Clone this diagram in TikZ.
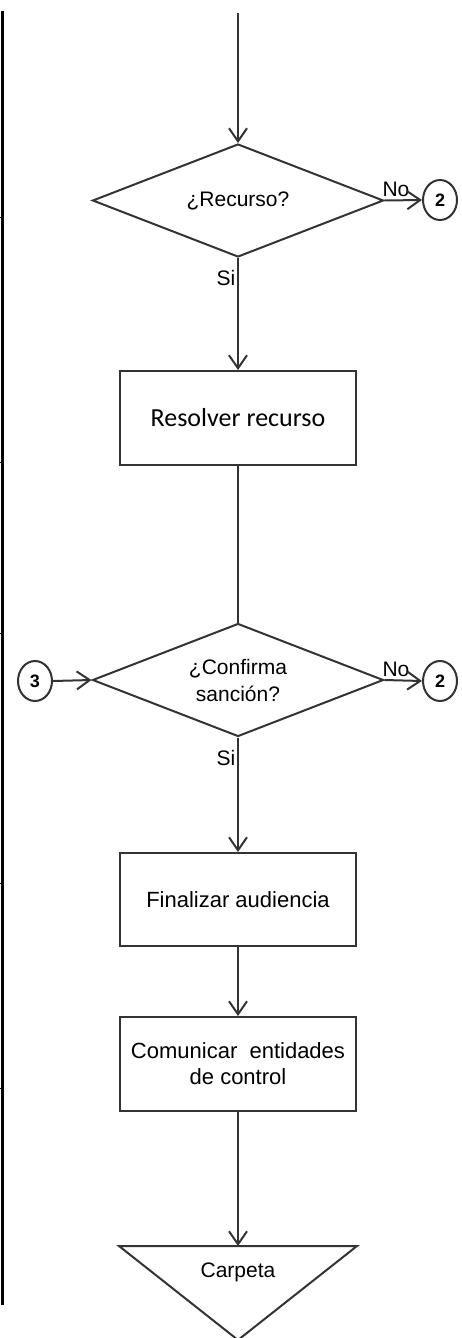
\documentclass[tikz,border=0pt]{standalone}
\usepackage{fontspec}
\setmainfont{Liberation Sans}
\newfontfamily\calibri{Carlito}
\usetikzlibrary{shapes.geometric,arrows.meta}

\begin{document}
\begin{tikzpicture}[x=1pt,y=-1pt,
    line width=2pt,
    linea/.style={draw=black!80},
    flecha/.style={linea,-{Straight Barb[length=13pt,width=18pt]}},
    decision/.style={diamond,draw=black!80,shape aspect=2.6,minimum width=291pt,minimum height=113pt,inner sep=0pt,align=center,font=\fontsize{21}{27}\selectfont},
    proceso/.style={rectangle,draw=black!80,minimum width=236pt,minimum height=94pt,inner sep=0pt,align=center,font=\fontsize{22}{26}\selectfont},
    conector/.style={ellipse,draw=black!80,minimum width=34pt,minimum height=40pt,inner sep=0pt,font=\fontsize{18}{18}\selectfont\bfseries},
    etiqueta/.style={inner sep=0pt,font=\fontsize{21}{21}\selectfont}]
  \useasboundingbox (0,0) rectangle (461,1338);

  % Borde izquierdo
  \draw[line width=3pt] (2,11) -- (2,1305);
  \foreach \y in {217,462,633,883,1088}
    \draw[line width=1pt] (0,\y) -- (2,\y);

  % Nodos
  \coordinate (inicio) at (238,13);
  \node[decision] (recurso) at (238,200.5) {¿Recurso?};
  \node[conector] (dos1) at (440,200) {2};
  \node[proceso,font=\calibri\fontsize{26}{28}\selectfont] (resolver) at (238,418) {Resolver recurso};
  \node[decision] (confirma) at (238,680) {¿Confirma\\sanción?};
  \node[conector] (tres) at (35,681) {3};
  \node[conector] (dos2) at (440,681) {2};
  \node[proceso,minimum height=93pt] (finalizar) at (238,899.5) {Finalizar audiencia};
  \node[proceso] (comunicar) at (238,1064) {Comunicar\ \ entidades\\de control};

  % Carpeta (triangulo)
  \coordinate (carpeta) at (238,1246);
  \draw[linea,line join=miter] (119,1246) -- (357,1246) -- (238,1340) -- cycle;
  \node[etiqueta] (txtcarpeta) at (238,1272) {Carpeta};

  % Etiquetas
  \node[etiqueta] (no1) at (396,189) {No};
  \node[etiqueta] (si1) at (226,278) {Si};
  \node[etiqueta] (no2) at (396,669) {No};
  \node[etiqueta] (si2) at (226,758) {Si};

  % Conexiones
  \draw[flecha] (inicio) -- (recurso.north);
  \draw[flecha] (recurso.east) -- (dos1.west);
  \draw[flecha] (recurso.south) -- (resolver.north);
  \draw[linea] (resolver.south) -- (confirma.north);
  \draw[flecha] (tres.east) -- (confirma.west);
  \draw[flecha] (confirma.east) -- (dos2.west);
  \draw[flecha] (confirma.south) -- (finalizar.north);
  \draw[flecha] (finalizar.south) -- (comunicar.north);
  \draw[flecha] (comunicar.south) -- (carpeta);
\end{tikzpicture}
\end{document}
